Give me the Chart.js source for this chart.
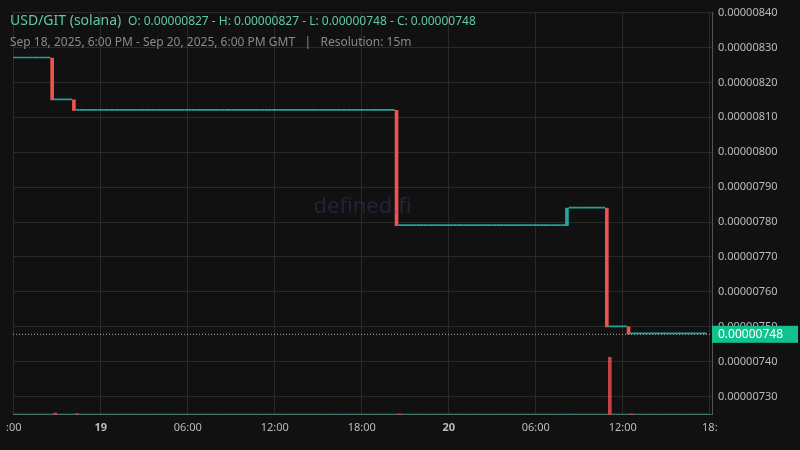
<!DOCTYPE html>
<html><head><meta charset="utf-8">
<script src="https://cdn.jsdelivr.net/npm/chart.js@4.4.0/dist/chart.umd.min.js"></script>
<style>
html,body{margin:0;background:#111111;}
#wrap{position:relative;width:800px;height:450px;font-family:"Noto Sans",sans-serif;}
#t1{position:absolute;left:10px;top:10px;color:#5fc9a6;font-size:14px;white-space:nowrap}
#t1 span{font-size:12px}
#t2{position:absolute;left:10px;top:33px;color:#8a8a8a;font-size:12px;white-space:nowrap}
</style></head><body>
<div id="wrap"><canvas id="c" width="800" height="450"></canvas>
<div id="t1">USD/GIT (solana) <span>&nbsp;O: 0.00000827 - H: 0.00000827 - L: 0.00000748 - C: 0.00000748</span></div>
<div id="t2">Sep 18, 2025, 6:00 PM - Sep 20, 2025, 6:00 PM GMT &nbsp;&nbsp;| &nbsp;&nbsp;Resolution: 15m</div>
</div>
<script>
// price levels (close after each move) and the 15m-candle index where each move happens
const moveIndex = [0, 11, 17, 106, 153, 164, 170];
const moveLevel = [0.00000827, 0.00000815, 0.00000812, 0.00000779, 0.00000784, 0.00000750, 0.00000748];
const moveVolume = [0.5, 3, 2, 1.5, 1, 100, 1];
const candleCount = 192;
const tickHours = [0, 6, 12, 18, 24, 30, 36, 42, 48];
const tickLabels = [":00", "19", "06:00", "12:00", "18:00", "20", "06:00", "12:00", "18:"];
const lastPrice = 0.00000748;

const UP = '#26a69a', DOWN = '#ef5350';
const candles = [], vols = [], cCol = [], vCol = [];
let prev = moveLevel[0];
for (let i = 0; i < candleCount; i++) {
  const k = moveIndex.indexOf(i);
  const x = i * 0.25;
  if (k > 0) {
    const o = moveLevel[k - 1], c = moveLevel[k];
    candles.push({x, y: [o, c]});
    cCol.push(c >= o ? UP : DOWN);
    vols.push({x, y: moveVolume[k]});
    vCol.push(c >= o ? 'rgba(38,166,154,0.6)' : 'rgba(239,83,80,0.8)');
    prev = c;
  } else {
    candles.push({x, y: [prev, prev]});
    cCol.push(UP);
    vols.push({x, y: 0.3});
    vCol.push('rgba(38,166,154,0.5)');
  }
}

const lastPlugin = {
  id: 'last',
  afterDatasetsDraw(ch) {
    const ctx = ch.ctx, y = ch.scales.y, yp = y.getPixelForValue(lastPrice);
    ctx.save();
    ctx.strokeStyle = '#bbbbbb'; ctx.setLineDash([1, 2]); ctx.lineWidth = 1;
    ctx.beginPath(); ctx.moveTo(ch.chartArea.left, yp + 0.5); ctx.lineTo(ch.chartArea.right, yp + 0.5); ctx.stroke();
    ctx.setLineDash([]);
    ctx.fillStyle = '#11c28c';
    ctx.fillRect(ch.chartArea.right, yp - 8, 86, 17);
    ctx.fillStyle = '#ffffff'; ctx.font = '12px "Noto Sans"'; ctx.textBaseline = 'middle';
    ctx.fillText(lastPrice.toFixed(8), ch.chartArea.right + 6, yp + 1);
    ctx.fillStyle = 'rgba(70,70,130,0.35)'; ctx.font = '22px "Noto Sans"'; ctx.textAlign = 'center';
    ctx.fillText('defined.fi', (ch.chartArea.left + ch.chartArea.right) / 2, 207);
    ctx.restore();
  }
};

new Chart(document.getElementById('c'), {
  type: 'bar',
  data: { datasets: [
    { data: candles, backgroundColor: cCol, yAxisID: 'y', barThickness: 3, minBarLength: 1, order: 1 },
    { data: vols, backgroundColor: vCol, yAxisID: 'v', barThickness: 3, minBarLength: 1, order: 2 }
  ]},
  options: {
    responsive: false, animation: false,
    layout: { padding: { left: 5, top: 0, right: 0, bottom: 10 } },
    plugins: { legend: { display: false }, tooltip: { enabled: false } },
    scales: {
      x: { type: 'linear', min: -0.05, max: 48.15, offset: false,
        afterBuildTicks: s => { s.ticks = tickHours.map(v => ({value: v})); },
        grid: { color: '#2a2a2a', drawTicks: false, offset: false },
        border: { color: '#555555' },
        ticks: { color: '#bbbbbb', padding: 6, maxRotation: 0, autoSkip: false,
          font: c => ({ size: 11, family: 'Noto Sans', weight: (c.tick && (c.tick.value === 6 || c.tick.value === 30)) ? 'bold' : 'normal' }),
          callback: v => { const i = tickHours.indexOf(v); return i >= 0 ? tickLabels[i] : ''; } } },
      y: { position: 'right', min: 0.000007248, max: 0.00000840, afterFit: s => { s.width = 88; },
        afterBuildTicks: s => { const t = []; for (let k = 73; k <= 84; k++) t.push({value: k / 1e7}); s.ticks = t; },
        grid: { color: '#2a2a2a', drawTicks: false }, border: { color: '#555555' },
        ticks: { color: '#bbbbbb', padding: 6, font: { size: 11, family: 'Noto Sans' }, callback: v => Number(v).toFixed(8) } },
      v: { display: false, min: 0, max: 700 }
    }
  },
  plugins: [lastPlugin]
});
</script></body></html>
